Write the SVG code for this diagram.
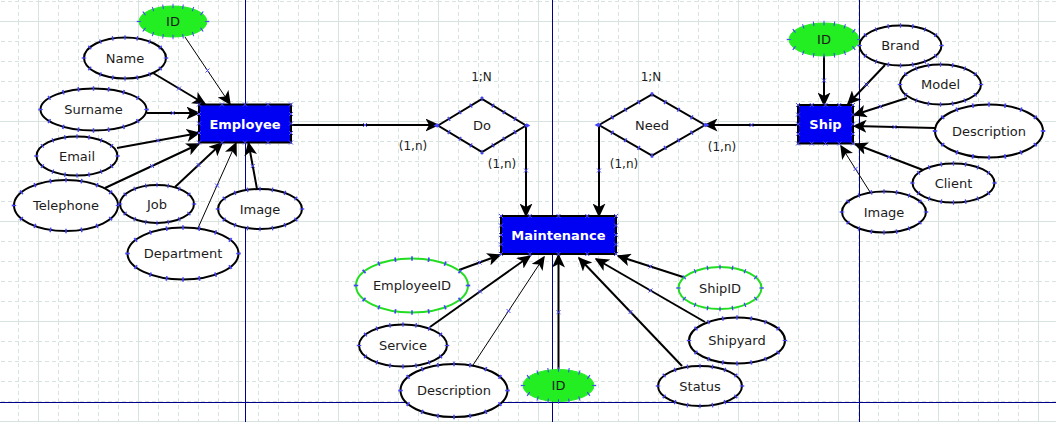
<svg xmlns="http://www.w3.org/2000/svg" xmlns:xlink="http://www.w3.org/1999/xlink" width="1056" height="422" viewBox="0 0 1056 422">
<style>
text{font-family:"DejaVu Sans","Liberation Sans",sans-serif;font-size:13px;fill:#1c1c1c;text-anchor:middle}
.card{font-size:12px}
.ent rect{fill:#0000f2;stroke:#000;stroke-width:2}
.ent text{fill:#fff;font-weight:bold}
.at{fill:#fff;stroke:#000;stroke-width:2}
.gid{fill:#22ee22;stroke:#22ee22;stroke-width:1}
.gk{fill:#fff;stroke:#22dd22;stroke-width:2}
.dia{fill:#fff;stroke:#000;stroke-width:2}
.xt{fill:none;stroke:#4444ff;stroke-width:4.5;stroke-dasharray:0.1 0.9;stroke-dashoffset:0.05}
.c{fill:none;stroke:#000;stroke-width:2}
.c.thin{stroke-width:1}
.xs{stroke:#4b4bff;stroke-width:1;fill:none}
.gmin{stroke:#d6e3df;stroke-width:1;stroke-dasharray:4 3}
.gmaj{stroke:#d6e3df;stroke-width:1}
.page{stroke:#00008b;stroke-width:1}
</style>
<defs>
<pattern id="grid" patternUnits="userSpaceOnUse" x="38" y="21" width="100" height="100">
<path class="gmin" d="M20.5,0V100M40.5,0V100M60.5,0V100M80.5,0V100M0,20.5H100M0,40.5H100M0,60.5H100M0,80.5H100"/>
<path class="gmaj" d="M0.5,0V100M0,0.5H100"/>
</pattern>
<marker id="arr" markerUnits="userSpaceOnUse" viewBox="0 0 14 13" markerWidth="14" markerHeight="13" refX="12.5" refY="6.5" orient="auto">
<path d="M0,0 L14,6.5 L0,13 L3.5,6.5 Z" fill="#000"/>
</marker>
<marker id="mx" markerUnits="userSpaceOnUse" viewBox="0 0 6 6" markerWidth="6" markerHeight="6" refX="3" refY="3" orient="0">
<path d="M1,1 L5,5 M1,5 L5,1" stroke="#4b4bff" stroke-width="1" fill="none"/>
</marker>
<path id="xs" class="xs" d="M-2,-2 L2,2 M-2,2 L2,-2"/>
</defs>

<rect width="1056" height="422" fill="#fff"/>
<rect width="1056" height="422" fill="url(#grid)"/>
<g id="page-lines">
<path class="page" d="M245.5,0V422M552.5,0V422M859.5,0V422M0,402.5H1056"/>
</g>

<g id="connectors">
<path class="c thin" d="M185,37 L207.5,70.5 L230,104" marker-mid="url(#mx)" marker-end="url(#arr)"/>
<path class="c" d="M153,73 L179,88.5 L205,104" marker-mid="url(#mx)" marker-end="url(#arr)"/>
<path class="c" d="M146.5,113 L172.75,113 L199,113" marker-mid="url(#mx)" marker-end="url(#arr)"/>
<path class="c" d="M117,148 L158,140.5 L199,133" marker-mid="url(#mx)" marker-end="url(#arr)"/>
<path class="c" d="M105,188 L152,166 L199,144" marker-mid="url(#mx)" marker-end="url(#arr)"/>
<path class="c" d="M175,187 L198.5,165 L222,143" marker-mid="url(#mx)" marker-end="url(#arr)"/>
<path class="c thin" d="M198,228 L217,185.5 L236,143" marker-mid="url(#mx)" marker-end="url(#arr)"/>
<path class="c" d="M257,189 L252.75,166 L248.5,143" marker-mid="url(#mx)" marker-end="url(#arr)"/>
<path class="c" d="M292,125 L365,125 L438,125" marker-mid="url(#mx)" marker-end="url(#arr)"/>
<path class="c" d="M526,125 L526,170.5 L526,216" marker-mid="url(#mx)" marker-end="url(#arr)"/>
<path class="c" d="M599,125 L599,170.5 L599,216" marker-mid="url(#mx)" marker-end="url(#arr)"/>
<path class="c" d="M798,125 L751.5,125 L705,125" marker-mid="url(#mx)" marker-end="url(#arr)"/>
<path class="c" d="M824,56 L824,80.5 L824,105" marker-mid="url(#mx)" marker-end="url(#arr)"/>
<path class="c" d="M885,65 L866.5,84.5 L848,104" marker-mid="url(#mx)" marker-end="url(#arr)"/>
<path class="c" d="M907,98 L880.5,106.5 L854,115" marker-mid="url(#mx)" marker-end="url(#arr)"/>
<path class="c" d="M935,128 L894.5,127 L854,126" marker-mid="url(#mx)" marker-end="url(#arr)"/>
<path class="c" d="M923,170 L889,157 L855,144" marker-mid="url(#mx)" marker-end="url(#arr)"/>
<path class="c thin" d="M870,192 L855.5,169 L841,146" marker-mid="url(#mx)" marker-end="url(#arr)"/>
<path class="c" d="M459,270 L479.5,262.5 L500,255" marker-mid="url(#mx)" marker-end="url(#arr)"/>
<path class="c" d="M430,327 L480,291.5 L530,256" marker-mid="url(#mx)" marker-end="url(#arr)"/>
<path class="c thin" d="M473,365 L508.5,311 L544,257" marker-mid="url(#mx)" marker-end="url(#arr)"/>
<path class="c" d="M558.5,369.5 L558.5,312.25 L558.5,255" marker-mid="url(#mx)" marker-end="url(#arr)"/>
<path class="c" d="M682,366 L630.5,312 L579,258" marker-mid="url(#mx)" marker-end="url(#arr)"/>
<path class="c" d="M705,322 L650.5,290.5 L596,259" marker-mid="url(#mx)" marker-end="url(#arr)"/>
<path class="c" d="M683,277 L650.5,266.5 L618,256" marker-mid="url(#mx)" marker-end="url(#arr)"/>
</g>

<g id="cardinalities">
<text class="card" x="481.5" y="81">1;N</text>
<text class="card" x="651" y="81">1;N</text>
<text class="card" x="413" y="150">(1,n)</text>
<text class="card" x="502" y="168">(1,n)</text>
<text class="card" x="624" y="168">(1,n)</text>
<text class="card" x="722" y="151">(1,n)</text>
</g>

<g id="employee" class="ent">
<rect x="199" y="104.5" width="92" height="38"/>
<text x="245" y="128.5">Employee</text>
<use href="#xs" x="199" y="104.5"/><use href="#xs" x="222" y="104.5"/><use href="#xs" x="245" y="104.5"/><use href="#xs" x="268" y="104.5"/><use href="#xs" x="291" y="104.5"/>
<use href="#xs" x="199" y="142.5"/><use href="#xs" x="222" y="142.5"/><use href="#xs" x="245" y="142.5"/><use href="#xs" x="268" y="142.5"/><use href="#xs" x="291" y="142.5"/>
<use href="#xs" x="199" y="114"/><use href="#xs" x="199" y="123.5"/><use href="#xs" x="199" y="133"/>
<use href="#xs" x="291" y="114"/><use href="#xs" x="291" y="123.5"/><use href="#xs" x="291" y="133"/>
</g>

<g id="ship" class="ent">
<rect x="798" y="105" width="55" height="38.5"/>
<text x="825.5" y="129">Ship</text>
<use href="#xs" x="798" y="105"/><use href="#xs" x="811.75" y="105"/><use href="#xs" x="825.5" y="105"/><use href="#xs" x="839.25" y="105"/><use href="#xs" x="853" y="105"/>
<use href="#xs" x="798" y="143.5"/><use href="#xs" x="811.75" y="143.5"/><use href="#xs" x="825.5" y="143.5"/><use href="#xs" x="839.25" y="143.5"/><use href="#xs" x="853" y="143.5"/>
<use href="#xs" x="798" y="114.6"/><use href="#xs" x="798" y="124.25"/><use href="#xs" x="798" y="133.9"/>
<use href="#xs" x="853" y="114.6"/><use href="#xs" x="853" y="124.25"/><use href="#xs" x="853" y="133.9"/>
</g>

<g id="maintenance" class="ent">
<rect x="501" y="216" width="115" height="38"/>
<text x="558.5" y="240">Maintenance</text>
<use href="#xs" x="501" y="216"/><use href="#xs" x="529.75" y="216"/><use href="#xs" x="558.5" y="216"/><use href="#xs" x="587.25" y="216"/><use href="#xs" x="616" y="216"/>
<use href="#xs" x="501" y="254"/><use href="#xs" x="529.75" y="254"/><use href="#xs" x="558.5" y="254"/><use href="#xs" x="587.25" y="254"/><use href="#xs" x="616" y="254"/>
<use href="#xs" x="501" y="225.5"/><use href="#xs" x="501" y="235"/><use href="#xs" x="501" y="244.5"/>
<use href="#xs" x="616" y="225.5"/><use href="#xs" x="616" y="235"/><use href="#xs" x="616" y="244.5"/>
</g>

<g id="rel-do">
<polygon class="dia" points="438,125.5 482,99 526,125.5 482,152"/>
<polygon class="xt" pathLength="16" points="438,125.5 482,99 526,125.5 482,152"/>
<text x="482" y="130">Do</text>
</g>

<g id="rel-need">
<polygon class="dia" points="599,125 652,94.5 705,125 652,155.5"/>
<polygon class="xt" pathLength="16" points="599,125 652,94.5 705,125 652,155.5"/>
<text x="652" y="129.5">Need</text>
</g>

<g id="emp-id"><ellipse class="gid" cx="173" cy="21.5" rx="34" ry="15.5"/><ellipse class="xt" pathLength="16" cx="173" cy="21.5" rx="34" ry="15.5"/><text x="173" y="26">ID</text></g>
<g id="emp-name"><ellipse class="at" cx="125" cy="58" rx="41" ry="20.5"/><ellipse class="xt" pathLength="16" cx="125" cy="58" rx="41" ry="20.5"/><text x="125" y="62.5">Name</text></g>
<g id="emp-surname"><ellipse class="at" cx="93.5" cy="109.5" rx="53" ry="21"/><ellipse class="xt" pathLength="16" cx="93.5" cy="109.5" rx="53" ry="21"/><text x="93.5" y="114">Surname</text></g>
<g id="emp-email"><ellipse class="at" cx="77" cy="156" rx="40.5" ry="19.5"/><ellipse class="xt" pathLength="16" cx="77" cy="156" rx="40.5" ry="19.5"/><text x="77" y="160.5">Email</text></g>
<g id="emp-telephone"><ellipse class="at" cx="66" cy="205.5" rx="52" ry="25.5"/><ellipse class="xt" pathLength="16" cx="66" cy="205.5" rx="52" ry="25.5"/><text x="66" y="210">Telephone</text></g>
<g id="emp-job"><ellipse class="at" cx="157" cy="204" rx="37" ry="19"/><ellipse class="xt" pathLength="16" cx="157" cy="204" rx="37" ry="19"/><text x="157" y="208.5">Job</text></g>
<g id="emp-department"><ellipse class="at" cx="183" cy="253.5" rx="55.5" ry="26"/><ellipse class="xt" pathLength="16" cx="183" cy="253.5" rx="55.5" ry="26"/><text x="183" y="258">Department</text></g>
<g id="emp-image"><ellipse class="at" cx="260" cy="209" rx="42" ry="20"/><ellipse class="xt" pathLength="16" cx="260" cy="209" rx="42" ry="20"/><text x="260" y="213.5">Image</text></g>

<g id="ship-id"><ellipse class="gid" cx="824" cy="39.5" rx="35" ry="16.5"/><ellipse class="xt" pathLength="16" cx="824" cy="39.5" rx="35" ry="16.5"/><text x="824" y="44">ID</text></g>
<g id="ship-brand"><ellipse class="at" cx="900.5" cy="45.5" rx="41" ry="20"/><ellipse class="xt" pathLength="16" cx="900.5" cy="45.5" rx="41" ry="20"/><text x="900.5" y="50">Brand</text></g>
<g id="ship-model"><ellipse class="at" cx="940.5" cy="84.5" rx="40.5" ry="20"/><ellipse class="xt" pathLength="16" cx="940.5" cy="84.5" rx="40.5" ry="20"/><text x="940.5" y="89">Model</text></g>
<g id="ship-description"><ellipse class="at" cx="989" cy="131" rx="54" ry="26.5"/><ellipse class="xt" pathLength="16" cx="989" cy="131" rx="54" ry="26.5"/><text x="989" y="135.5">Description</text></g>
<g id="ship-client"><ellipse class="at" cx="953.5" cy="183" rx="41" ry="19.5"/><ellipse class="xt" pathLength="16" cx="953.5" cy="183" rx="41" ry="19.5"/><text x="953.5" y="187.5">Client</text></g>
<g id="ship-image"><ellipse class="at" cx="884" cy="212" rx="42" ry="20.5"/><ellipse class="xt" pathLength="16" cx="884" cy="212" rx="42" ry="20.5"/><text x="884" y="216.5">Image</text></g>

<g id="m-employeeid"><ellipse class="gk" cx="412" cy="285.5" rx="56" ry="27"/><ellipse class="xt" pathLength="16" cx="412" cy="285.5" rx="56" ry="27"/><text x="412" y="290">EmployeeID</text></g>
<g id="m-service"><ellipse class="at" cx="403" cy="345.5" rx="44" ry="21"/><ellipse class="xt" pathLength="16" cx="403" cy="345.5" rx="44" ry="21"/><text x="403" y="350">Service</text></g>
<g id="m-description"><ellipse class="at" cx="454" cy="390.5" rx="53.5" ry="26.5"/><ellipse class="xt" pathLength="16" cx="454" cy="390.5" rx="53.5" ry="26.5"/><text x="454" y="395">Description</text></g>
<g id="m-id"><ellipse class="gid" cx="558.5" cy="385.5" rx="35.5" ry="16"/><ellipse class="xt" pathLength="16" cx="558.5" cy="385.5" rx="35.5" ry="16"/><text x="558.5" y="390">ID</text></g>
<g id="m-status"><ellipse class="at" cx="700" cy="386" rx="42" ry="20"/><ellipse class="xt" pathLength="16" cx="700" cy="386" rx="42" ry="20"/><text x="700" y="390.5">Status</text></g>
<g id="m-shipyard"><ellipse class="at" cx="737" cy="340.5" rx="48" ry="23"/><ellipse class="xt" pathLength="16" cx="737" cy="340.5" rx="48" ry="23"/><text x="737" y="345">Shipyard</text></g>
<g id="m-shipid"><ellipse class="gk" cx="720" cy="288" rx="41.5" ry="21"/><ellipse class="xt" pathLength="16" cx="720" cy="288" rx="41.5" ry="21"/><text x="720" y="292.5">ShipID</text></g>
</svg>
